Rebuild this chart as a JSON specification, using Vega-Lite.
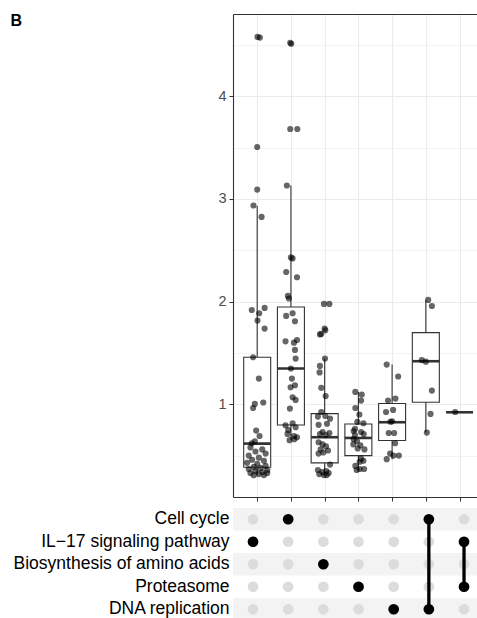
{
  "$schema": "https://vega.github.io/schema/vega-lite/v6.json",
  "padding": {"left": 10, "top": 12, "right": 0, "bottom": 0},
  "spacing": 6,
  "config": {"view": {"stroke": null}, "font": "Liberation Sans"},
  "datasets": {
    "boxes": [
      {"grp": 1, "lower": 0.31, "q1": 0.387, "median": 0.617, "q3": 1.458, "upper": 2.93},
      {"grp": 2, "lower": 0.65, "q1": 0.798, "median": 1.348, "q3": 1.947, "upper": 3.13},
      {"grp": 3, "lower": 0.31, "q1": 0.429, "median": 0.679, "q3": 0.909, "upper": 1.445},
      {"grp": 4, "lower": 0.357, "q1": 0.5, "median": 0.672, "q3": 0.808, "upper": 1.12},
      {"grp": 5, "lower": 0.465, "q1": 0.647, "median": 0.825, "q3": 1.007, "upper": 1.386},
      {"grp": 6, "lower": 0.724, "q1": 1.019, "median": 1.419, "q3": 1.698, "upper": 2.016},
      {"grp": 7, "lower": 0.922, "q1": 0.922, "median": 0.922, "q3": 0.922, "upper": 0.922}
    ],
    "pts": [
      {"grp": 1, "xj": 1.01, "value": 4.577}, {"grp": 1, "xj": 1.08, "value": 4.57},
      {"grp": 1, "xj": 1.0, "value": 3.505}, {"grp": 1, "xj": 1.0, "value": 3.09},
      {"grp": 1, "xj": 0.89, "value": 2.935}, {"grp": 1, "xj": 1.13, "value": 2.824},
      {"grp": 1, "xj": 0.84, "value": 1.918}, {"grp": 1, "xj": 1.06, "value": 1.886},
      {"grp": 1, "xj": 1.22, "value": 1.938}, {"grp": 1, "xj": 1.01, "value": 1.815},
      {"grp": 1, "xj": 1.22, "value": 1.737}, {"grp": 1, "xj": 0.88, "value": 1.458},
      {"grp": 1, "xj": 1.05, "value": 1.25}, {"grp": 1, "xj": 0.93, "value": 1.003},
      {"grp": 1, "xj": 0.88, "value": 0.964}, {"grp": 1, "xj": 1.18, "value": 1.017},
      {"grp": 1, "xj": 0.97, "value": 0.744}, {"grp": 1, "xj": 1.07, "value": 0.691},
      {"grp": 1, "xj": 0.93, "value": 0.64}, {"grp": 1, "xj": 0.84, "value": 0.62},
      {"grp": 1, "xj": 0.8, "value": 0.58}, {"grp": 1, "xj": 1.15, "value": 0.56},
      {"grp": 1, "xj": 0.95, "value": 0.54}, {"grp": 1, "xj": 1.25, "value": 0.52},
      {"grp": 1, "xj": 0.75, "value": 0.5}, {"grp": 1, "xj": 1.05, "value": 0.48},
      {"grp": 1, "xj": 0.85, "value": 0.46}, {"grp": 1, "xj": 1.2, "value": 0.45},
      {"grp": 1, "xj": 0.7, "value": 0.43}, {"grp": 1, "xj": 1.0, "value": 0.42},
      {"grp": 1, "xj": 1.25, "value": 0.4}, {"grp": 1, "xj": 0.9, "value": 0.39},
      {"grp": 1, "xj": 1.1, "value": 0.38}, {"grp": 1, "xj": 0.75, "value": 0.37},
      {"grp": 1, "xj": 1.3, "value": 0.36}, {"grp": 1, "xj": 0.95, "value": 0.35},
      {"grp": 1, "xj": 1.15, "value": 0.34}, {"grp": 1, "xj": 0.8, "value": 0.33},
      {"grp": 1, "xj": 1.05, "value": 0.32}, {"grp": 1, "xj": 0.9, "value": 0.31},
      {"grp": 1, "xj": 1.2, "value": 0.31}, {"grp": 1, "xj": 1.3, "value": 0.33},
      {"grp": 2, "xj": 1.98, "value": 4.52}, {"grp": 2, "xj": 2.01, "value": 4.51},
      {"grp": 2, "xj": 1.98, "value": 3.68}, {"grp": 2, "xj": 2.19, "value": 3.68},
      {"grp": 2, "xj": 1.88, "value": 3.13}, {"grp": 2, "xj": 2.0, "value": 2.43},
      {"grp": 2, "xj": 2.05, "value": 2.42}, {"grp": 2, "xj": 1.86, "value": 2.288},
      {"grp": 2, "xj": 2.18, "value": 2.237}, {"grp": 2, "xj": 1.91, "value": 2.055},
      {"grp": 2, "xj": 1.94, "value": 2.03}, {"grp": 2, "xj": 1.86, "value": 1.86},
      {"grp": 2, "xj": 2.05, "value": 1.886}, {"grp": 2, "xj": 2.12, "value": 1.808},
      {"grp": 2, "xj": 1.84, "value": 1.613}, {"grp": 2, "xj": 2.09, "value": 1.6},
      {"grp": 2, "xj": 2.18, "value": 1.626}, {"grp": 2, "xj": 2.12, "value": 1.529},
      {"grp": 2, "xj": 2.14, "value": 1.445}, {"grp": 2, "xj": 2.0, "value": 1.348},
      {"grp": 2, "xj": 2.03, "value": 1.25}, {"grp": 2, "xj": 2.12, "value": 1.185},
      {"grp": 2, "xj": 1.99, "value": 1.166}, {"grp": 2, "xj": 2.05, "value": 1.068},
      {"grp": 2, "xj": 2.14, "value": 1.042}, {"grp": 2, "xj": 1.97, "value": 0.958},
      {"grp": 2, "xj": 2.05, "value": 0.815}, {"grp": 2, "xj": 1.84, "value": 0.796},
      {"grp": 2, "xj": 2.14, "value": 0.776}, {"grp": 2, "xj": 1.92, "value": 0.75},
      {"grp": 2, "xj": 1.9, "value": 0.711}, {"grp": 2, "xj": 2.09, "value": 0.691},
      {"grp": 2, "xj": 2.18, "value": 0.679}, {"grp": 2, "xj": 2.1, "value": 0.66},
      {"grp": 2, "xj": 1.96, "value": 0.65},
      {"grp": 3, "xj": 2.98, "value": 1.977}, {"grp": 3, "xj": 3.14, "value": 1.977},
      {"grp": 3, "xj": 3.0, "value": 1.737}, {"grp": 3, "xj": 3.02, "value": 1.72},
      {"grp": 3, "xj": 2.9, "value": 1.685}, {"grp": 3, "xj": 2.86, "value": 1.68},
      {"grp": 3, "xj": 3.01, "value": 1.445}, {"grp": 3, "xj": 2.86, "value": 1.373},
      {"grp": 3, "xj": 2.85, "value": 1.31}, {"grp": 3, "xj": 2.9, "value": 1.16},
      {"grp": 3, "xj": 3.03, "value": 1.08}, {"grp": 3, "xj": 2.9, "value": 0.925},
      {"grp": 3, "xj": 2.8, "value": 0.88}, {"grp": 3, "xj": 3.02, "value": 0.886},
      {"grp": 3, "xj": 3.16, "value": 0.86}, {"grp": 3, "xj": 2.82, "value": 0.8},
      {"grp": 3, "xj": 3.07, "value": 0.81}, {"grp": 3, "xj": 2.94, "value": 0.73},
      {"grp": 3, "xj": 2.86, "value": 0.71}, {"grp": 3, "xj": 3.03, "value": 0.7},
      {"grp": 3, "xj": 3.14, "value": 0.72}, {"grp": 3, "xj": 2.82, "value": 0.63},
      {"grp": 3, "xj": 2.94, "value": 0.61}, {"grp": 3, "xj": 3.04, "value": 0.59},
      {"grp": 3, "xj": 2.88, "value": 0.56}, {"grp": 3, "xj": 3.1, "value": 0.55},
      {"grp": 3, "xj": 2.82, "value": 0.52}, {"grp": 3, "xj": 2.96, "value": 0.53},
      {"grp": 3, "xj": 3.16, "value": 0.413}, {"grp": 3, "xj": 2.8, "value": 0.36},
      {"grp": 3, "xj": 2.93, "value": 0.34}, {"grp": 3, "xj": 3.05, "value": 0.35},
      {"grp": 3, "xj": 2.84, "value": 0.32}, {"grp": 3, "xj": 2.98, "value": 0.31},
      {"grp": 3, "xj": 3.12, "value": 0.33}, {"grp": 3, "xj": 3.06, "value": 0.31},
      {"grp": 4, "xj": 3.91, "value": 1.12}, {"grp": 4, "xj": 4.1, "value": 1.094},
      {"grp": 4, "xj": 4.08, "value": 1.036}, {"grp": 4, "xj": 3.91, "value": 0.964},
      {"grp": 4, "xj": 4.03, "value": 0.9}, {"grp": 4, "xj": 3.97, "value": 0.828},
      {"grp": 4, "xj": 4.15, "value": 0.815}, {"grp": 4, "xj": 3.9, "value": 0.76},
      {"grp": 4, "xj": 3.86, "value": 0.74}, {"grp": 4, "xj": 4.08, "value": 0.73},
      {"grp": 4, "xj": 4.16, "value": 0.71}, {"grp": 4, "xj": 3.9, "value": 0.7},
      {"grp": 4, "xj": 3.86, "value": 0.66}, {"grp": 4, "xj": 3.96, "value": 0.64},
      {"grp": 4, "xj": 3.85, "value": 0.61}, {"grp": 4, "xj": 4.06, "value": 0.6},
      {"grp": 4, "xj": 3.98, "value": 0.57}, {"grp": 4, "xj": 4.18, "value": 0.56},
      {"grp": 4, "xj": 4.08, "value": 0.47}, {"grp": 4, "xj": 4.15, "value": 0.45},
      {"grp": 4, "xj": 4.04, "value": 0.44}, {"grp": 4, "xj": 3.91, "value": 0.4},
      {"grp": 4, "xj": 4.04, "value": 0.37}, {"grp": 4, "xj": 4.17, "value": 0.37},
      {"grp": 4, "xj": 3.95, "value": 0.36},
      {"grp": 5, "xj": 4.84, "value": 1.386}, {"grp": 5, "xj": 5.18, "value": 1.27},
      {"grp": 5, "xj": 4.88, "value": 1.036}, {"grp": 5, "xj": 5.1, "value": 1.055},
      {"grp": 5, "xj": 4.82, "value": 0.925}, {"grp": 5, "xj": 5.03, "value": 0.945},
      {"grp": 5, "xj": 5.0, "value": 0.834}, {"grp": 5, "xj": 4.95, "value": 0.83},
      {"grp": 5, "xj": 4.9, "value": 0.72}, {"grp": 5, "xj": 5.06, "value": 0.72},
      {"grp": 5, "xj": 5.09, "value": 0.62}, {"grp": 5, "xj": 4.94, "value": 0.52},
      {"grp": 5, "xj": 5.04, "value": 0.5}, {"grp": 5, "xj": 5.2, "value": 0.5},
      {"grp": 5, "xj": 4.84, "value": 0.465},
      {"grp": 6, "xj": 6.07, "value": 2.016}, {"grp": 6, "xj": 6.18, "value": 1.957},
      {"grp": 6, "xj": 5.88, "value": 1.43}, {"grp": 6, "xj": 6.0, "value": 1.415},
      {"grp": 6, "xj": 6.18, "value": 1.133}, {"grp": 6, "xj": 6.14, "value": 0.906},
      {"grp": 6, "xj": 6.03, "value": 0.724},
      {"grp": 7, "xj": 6.87, "value": 0.925}
    ],
    "stripes": [
      {"set": "Cell cycle"}, {"set": "Biosynthesis of amino acids"}, {"set": "DNA replication"}
    ],
    "cells": [
      {"grp": 1, "set": "Cell cycle", "active": false}, {"grp": 1, "set": "IL−17 signaling pathway", "active": true}, {"grp": 1, "set": "Biosynthesis of amino acids", "active": false}, {"grp": 1, "set": "Proteasome", "active": false}, {"grp": 1, "set": "DNA replication", "active": false},
      {"grp": 2, "set": "Cell cycle", "active": true}, {"grp": 2, "set": "IL−17 signaling pathway", "active": false}, {"grp": 2, "set": "Biosynthesis of amino acids", "active": false}, {"grp": 2, "set": "Proteasome", "active": false}, {"grp": 2, "set": "DNA replication", "active": false},
      {"grp": 3, "set": "Cell cycle", "active": false}, {"grp": 3, "set": "IL−17 signaling pathway", "active": false}, {"grp": 3, "set": "Biosynthesis of amino acids", "active": true}, {"grp": 3, "set": "Proteasome", "active": false}, {"grp": 3, "set": "DNA replication", "active": false},
      {"grp": 4, "set": "Cell cycle", "active": false}, {"grp": 4, "set": "IL−17 signaling pathway", "active": false}, {"grp": 4, "set": "Biosynthesis of amino acids", "active": false}, {"grp": 4, "set": "Proteasome", "active": true}, {"grp": 4, "set": "DNA replication", "active": false},
      {"grp": 5, "set": "Cell cycle", "active": false}, {"grp": 5, "set": "IL−17 signaling pathway", "active": false}, {"grp": 5, "set": "Biosynthesis of amino acids", "active": false}, {"grp": 5, "set": "Proteasome", "active": false}, {"grp": 5, "set": "DNA replication", "active": true},
      {"grp": 6, "set": "Cell cycle", "active": true}, {"grp": 6, "set": "IL−17 signaling pathway", "active": false}, {"grp": 6, "set": "Biosynthesis of amino acids", "active": false}, {"grp": 6, "set": "Proteasome", "active": false}, {"grp": 6, "set": "DNA replication", "active": true},
      {"grp": 7, "set": "Cell cycle", "active": false}, {"grp": 7, "set": "IL−17 signaling pathway", "active": true}, {"grp": 7, "set": "Biosynthesis of amino acids", "active": false}, {"grp": 7, "set": "Proteasome", "active": true}, {"grp": 7, "set": "DNA replication", "active": false}
    ],
    "links": [
      {"grp": 6, "from": "Cell cycle", "to": "DNA replication"},
      {"grp": 7, "from": "IL−17 signaling pathway", "to": "Proteasome"}
    ]
  },
  "vconcat": [
    {
      "width": 244,
      "height": 483,
      "resolve": {"axis": {"x": "independent", "y": "independent"}},
      "layer": [
        {
          "data": {"name": "boxes"},
          "mark": {"type": "rule", "color": "#333333", "strokeWidth": 1.1},
          "encoding": {
            "x": {"field": "grp", "type": "quantitative", "scale": {"domain": [0.431, 7.369], "nice": false, "zero": false},
              "axis": {"orient": "bottom", "values": [1, 2, 3, 4, 5, 6, 7], "labels": false, "ticks": true, "tickSize": 4, "tickColor": "#333333", "domain": true, "domainColor": "#333333", "domainWidth": 1.1, "grid": true, "gridColor": "#ebebeb", "gridWidth": 1.1, "title": null}},
            "y": {"field": "lower", "type": "quantitative", "scale": {"domain": [0.097, 4.8], "nice": false, "zero": false},
              "axis": {"orient": "left", "values": [1, 2, 3, 4], "labelFontSize": 14.5, "labelColor": "#4d4d4d", "labelFont": "Liberation Sans", "tickSize": 4, "tickColor": "#333333", "labelPadding": 3, "domainColor": "#333333", "domainWidth": 1.1, "grid": true, "gridColor": "#ebebeb", "gridWidth": 1.1,
                "title": "B", "titleAngle": 0, "titleX": -223, "titleY": 11, "titleAlign": "left", "titleBaseline": "alphabetic", "titleFontSize": 16, "titleFontWeight": "bold", "titleColor": "black", "titleFont": "Liberation Sans"}},
            "y2": {"field": "upper"}
          }
        },
        {
          "data": {"name": "boxes"},
          "mark": {"type": "bar", "width": 27, "fill": "white", "stroke": "#333333", "strokeWidth": 1.1},
          "encoding": {
            "x": {"field": "grp", "type": "quantitative", "axis": {"orient": "top", "labels": false, "ticks": false, "grid": false, "domain": true, "domainColor": "#333333", "domainWidth": 1.1, "title": null}},
            "y": {"field": "q1", "type": "quantitative", "axis": {"orient": "left", "values": [0.5, 1.5, 2.5, 3.5, 4.5], "grid": true, "gridColor": "#ebebeb", "gridWidth": 0.6, "labels": false, "ticks": false, "domain": false, "title": null}},
            "y2": {"field": "q3"}
          }
        },
        {
          "data": {"name": "boxes"},
          "mark": {"type": "tick", "orient": "horizontal", "size": 27, "thickness": 2.6, "color": "#333333", "opacity": 1},
          "encoding": {
            "x": {"field": "grp", "type": "quantitative", "axis": null},
            "y": {"field": "median", "type": "quantitative", "axis": null}
          }
        },
        {
          "data": {"name": "pts"},
          "mark": {"type": "circle", "size": 38, "color": "black", "opacity": 0.6},
          "encoding": {
            "x": {"field": "xj", "type": "quantitative", "axis": null},
            "y": {"field": "value", "type": "quantitative", "axis": null}
          }
        }
      ]
    },
    {
      "width": 244,
      "height": 112.5,
      "layer": [
        {
          "data": {"name": "stripes"},
          "mark": {"type": "rect", "color": "#f3f3f3"},
          "encoding": {
            "y": {"field": "set", "type": "nominal",
              "scale": {"type": "band", "domain": ["Cell cycle", "IL−17 signaling pathway", "Biosynthesis of amino acids", "Proteasome", "DNA replication"], "paddingInner": 0, "paddingOuter": 0},
              "axis": {"orient": "left", "domain": false, "ticks": false, "grid": false, "labelFontSize": 17.5, "labelColor": "black", "labelFont": "Liberation Sans", "labelPadding": 4, "labelLimit": 0, "title": null}}
          }
        },
        {
          "data": {"name": "cells"},
          "mark": {"type": "circle", "size": 115, "color": "#dcdcdc", "opacity": 1},
          "encoding": {
            "x": {"field": "grp", "type": "quantitative", "scale": {"domain": [0.431, 7.369], "nice": false, "zero": false}, "axis": null},
            "y": {"field": "set", "type": "nominal"}
          }
        },
        {
          "data": {"name": "links"},
          "mark": {"type": "rule", "color": "black", "strokeWidth": 3.3},
          "encoding": {
            "x": {"field": "grp", "type": "quantitative"},
            "y": {"field": "from", "type": "nominal", "bandPosition": 0.5},
            "y2": {"field": "to", "bandPosition": 0.5}
          }
        },
        {
          "data": {"name": "cells"},
          "transform": [{"filter": "datum.active"}],
          "mark": {"type": "circle", "size": 115, "color": "black", "opacity": 1},
          "encoding": {
            "x": {"field": "grp", "type": "quantitative"},
            "y": {"field": "set", "type": "nominal"}
          }
        }
      ]
    }
  ]
}
